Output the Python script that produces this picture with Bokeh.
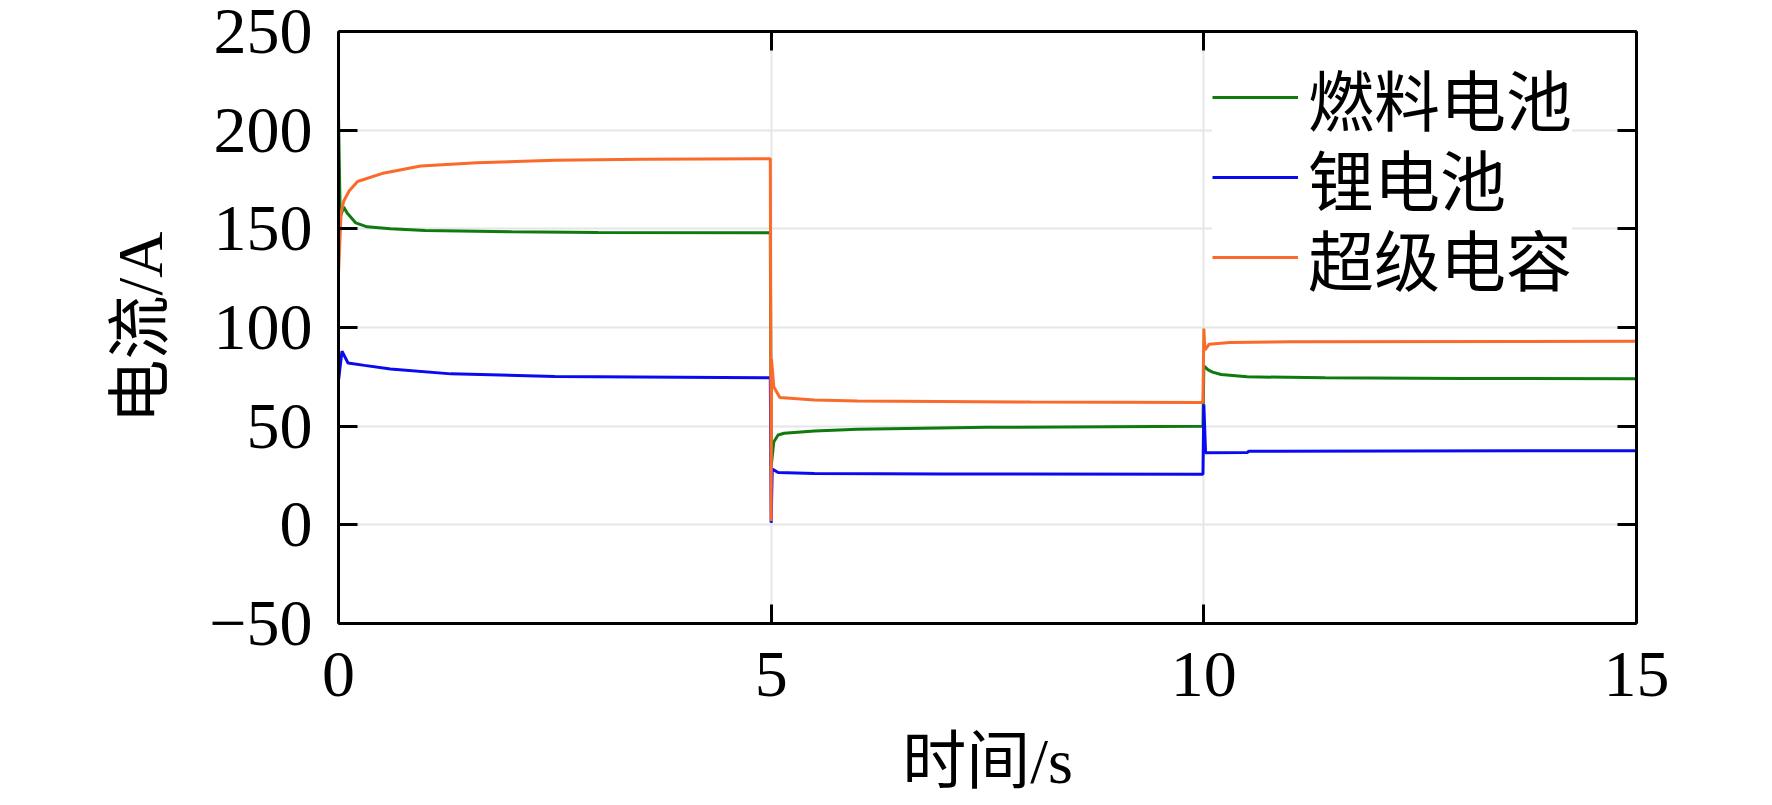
from bokeh.plotting import figure
from bokeh.models import (LinearAxis, FixedTicker, CustomJSTickFormatter, Legend,
                          LegendItem, Range1d)
from bokeh.embed import file_html
from bokeh.resources import INLINE

# ---------------- data ----------------
x_ticks = [0, 5, 10, 15]
y_ticks = [-50, 0, 50, 100, 150, 200, 250]
y_tick_labels = {-50: "\u221250", 0: "0", 50: "50", 100: "100", 150: "150", 200: "200", 250: "250"}

series_names = ["燃料电池", "锂电池", "超级电容"]

fc_t = [0.0, 0.02, 0.06, 0.1, 0.2, 0.33, 0.6, 1.0, 2.0, 3.0, 4.99, 5.0, 5.03, 5.08,
        5.15, 5.5, 6.0, 7.5, 9.99, 10.0, 10.05, 10.1, 10.2, 10.5, 11.4, 13.0, 15.0]
fc_i = [208, 156, 161, 158, 153, 151, 150, 149.2, 148.5, 148.2, 148, 29.5, 42, 45.5,
        46.4, 47.6, 48.5, 49.4, 50, 80.5, 78.5, 77.4, 76.2, 75, 74.5, 74.2, 74]

li_t = [0.0, 0.04, 0.11, 0.3, 0.6, 1.3, 2.5, 4.99, 5.0, 5.012, 5.08, 5.5, 7.0, 9.99,
        10.0, 10.02, 10.5, 10.52, 15.0]
li_i = [73, 88, 82, 80.8, 79, 76.5, 75.2, 74.5, 1, 28.3, 26.5, 26.0, 25.8, 25.6,
        61, 36.5, 36.6, 37.3, 37.6]

sc_t = [0.0, 0.03, 0.06, 0.12, 0.22, 0.5, 0.95, 1.6, 2.5, 3.5, 4.99, 5.0, 5.004, 5.03,
        5.1, 5.5, 6.0, 8.0, 9.99, 10.0, 10.012, 10.06, 10.3, 11.0, 15.0]
sc_i = [127, 158, 164, 169, 174, 178, 181.8, 183.5, 184.8, 185.3, 185.5, 2, 84, 70,
        64.5, 63.3, 62.7, 62.2, 62, 99.5, 88.5, 91.5, 92.4, 92.8, 93]

colors = ["#0f7a0f", "#0a0aee", "#fa6a2a"]

# ---------------- figure ----------------
FONT = "'Liberation Serif', 'Noto Sans CJK SC'"

p = figure(frame_width=1298, frame_height=592, output_backend="svg", toolbar_location=None,
           x_range=Range1d(0, 15), y_range=Range1d(-50, 250),
           min_border_left=338, min_border_right=118, min_border_top=31,
           min_border_bottom=160)
p.outline_line_color = None
p.background_fill_color = "white"


def style_axis(ax, ticks):
    ax.ticker = FixedTicker(ticks=ticks)
    ax.axis_line_width = 3
    ax.axis_line_color = "black"
    ax.major_tick_line_width = 3
    ax.major_tick_line_color = "black"
    ax.major_tick_in = 19
    ax.major_tick_out = 0
    ax.minor_tick_line_color = None
    ax.major_label_text_font = FONT
    ax.major_label_text_font_size = "66px"
    ax.major_label_text_color = "black"
    ax.axis_label_text_font = FONT
    ax.axis_label_text_font_size = "64px"
    ax.axis_label_text_font_style = "normal"
    ax.axis_label_text_color = "black"


xa = p.xaxis[0]
ya = p.yaxis[0]
style_axis(xa, x_ticks)
style_axis(ya, y_ticks)
xa.axis_label = "时间/s"
ya.axis_label = "电流/A"
xa.major_label_standoff = 29
xa.axis_label_standoff = 27
ya.major_label_standoff = 26
ya.axis_label_standoff = 30
ya.major_label_overrides = y_tick_labels

top = LinearAxis()
right = LinearAxis()
style_axis(top, x_ticks)
style_axis(right, y_ticks)
for ax in (top, right):
    ax.formatter = CustomJSTickFormatter(code="return ''")
    ax.major_label_standoff = 0
p.add_layout(top, "above")
p.add_layout(right, "right")

p.xgrid.ticker = FixedTicker(ticks=x_ticks)
p.ygrid.ticker = FixedTicker(ticks=y_ticks)
p.grid.grid_line_color = "#e6e6e6"
p.grid.grid_line_width = 2

renderers = [
    p.line(fc_t, fc_i, line_color=colors[0], line_width=3),
    p.line(li_t, li_i, line_color=colors[1], line_width=3),
    p.line(sc_t, sc_i, line_color=colors[2], line_width=3),
]

# one single-item legend per row, so the row pitch matches the reference;
# added bottom row first so no white box covers the text of the row below it
legend_offsets = [(874, 478), (874, 398), (874, 318)]
rows = list(zip(series_names, renderers, legend_offsets))
for name, r, loc in reversed(rows):
    lg = Legend(items=[LegendItem(label=name, renderers=[r])], location=loc)
    lg.label_text_font = FONT
    lg.label_text_font_size = "66px"
    lg.label_text_color = "black"
    lg.glyph_width = 86
    lg.glyph_height = 90
    lg.label_height = 90
    lg.label_standoff = 10
    lg.spacing = 0
    lg.padding = 0
    lg.margin = 0
    lg.border_line_color = None
    lg.background_fill_color = "white"
    lg.background_fill_alpha = 1.0
    p.add_layout(lg)

open("out.html", "w").write(file_html(p, INLINE))
